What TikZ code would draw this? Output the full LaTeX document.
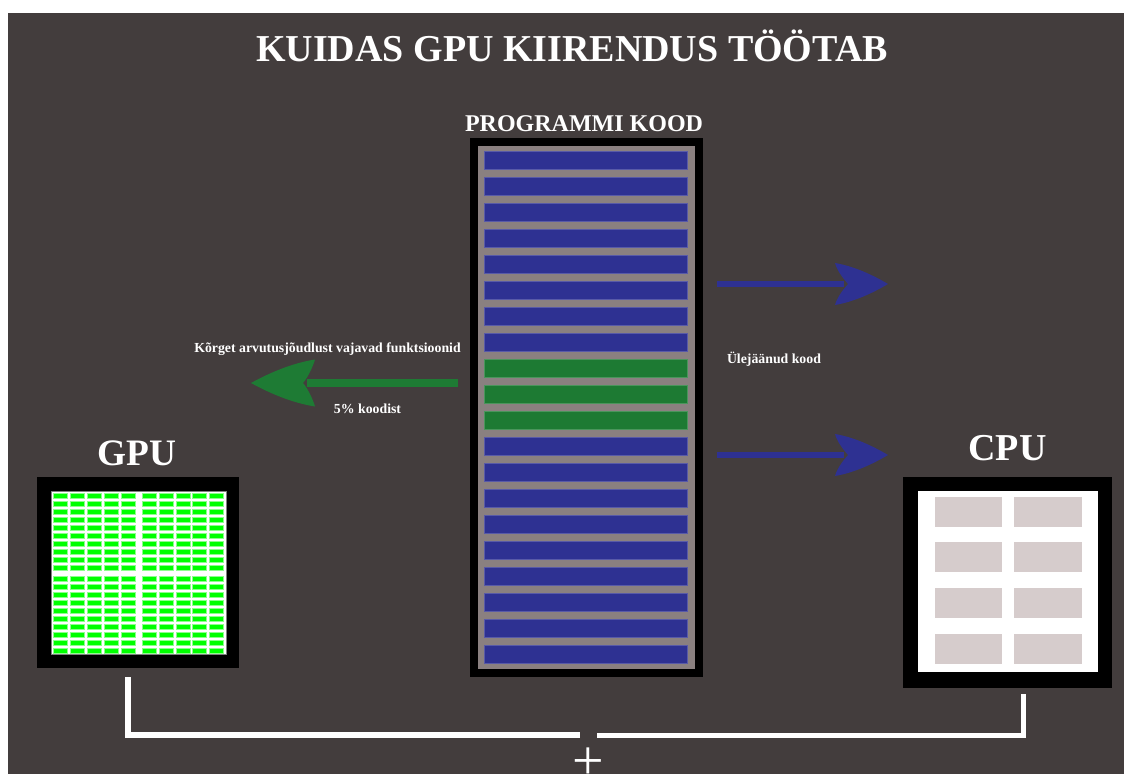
\documentclass[tikz,border=0pt]{standalone}
\usepackage{fontspec}
\setmainfont{Liberation Serif}
\usetikzlibrary{fit,calc}

\definecolor{bgdark}{HTML}{433D3D}
\definecolor{codegray}{HTML}{8A8080}
\definecolor{rowblue}{HTML}{2E3192}
\definecolor{rowgreen}{HTML}{1D7A33}
\definecolor{arrowgreen}{HTML}{1E7B34}
\definecolor{coregreen}{HTML}{00FF00}
\definecolor{cpucell}{HTML}{D6CCCC}

\tikzset{
  box/.style={inner sep=0pt, outer sep=0pt},
  lbl/.style={text=white, inner sep=0pt, outer sep=0pt},
  conn/.style={draw=white, line join=miter},
  % swept arrowhead: tip at the origin, pointing along +x
  % #1 = length, #2 = half width, #3 = depth of the rear notch
  pics/ahead/.style n args={3}{code={
    \fill (0,0) .. controls (-0.3*#1,-0.45*#2) and (-0.65*#1,-0.85*#2) .. (-#1,-#2)
      .. controls (-0.95*#1,-0.55*#2) and (-#3-0.05*#1,-0.15*#2) .. (-#3,0)
      .. controls (-#3-0.05*#1,0.15*#2) and (-0.95*#1,0.55*#2) .. (-#1,#2)
      .. controls (-0.65*#1,0.85*#2) and (-0.3*#1,0.45*#2) .. (0,0) -- cycle;
  }}
}

\begin{document}
\begin{tikzpicture}[x=0.75pt,y=-0.75pt]
\useasboundingbox (0,0) rectangle (1124,774);
\fill[white] (0,0) rectangle (1124,774);
\fill[bgdark] (8,13) rectangle (1124,774);

% title
\node[lbl, font=\bfseries\fontsize{28.5}{30}\selectfont, anchor=base] (title) at (572,62) {KUIDAS GPU KIIRENDUS TÖÖTAB};

% program code column
\node[lbl, font=\bfseries\fontsize{18}{20}\selectfont, anchor=base] (codelbl) at (584,131) {PROGRAMMI KOOD};
\node[box, fill=black, fit={(470,138)(703,677)}] (code) {};
\node[box, fill=codegray, fit={(478,146)(695,669)}] (codein) {};
\foreach \i in {0,...,19}{
  \ifnum\i>7 \ifnum\i<11 \def\rc{rowgreen}\else\def\rc{rowblue}\fi \else\def\rc{rowblue}\fi
  \node[box, fill=\rc, draw=\rc!80!white, line width=0.4pt,
        fit={(484,151+26*\i)(687,169+26*\i)}] (row\i) {};
}

% GPU
\node[lbl, font=\bfseries\fontsize{28}{30}\selectfont, anchor=base] (gpulbl) at (137,465) {GPU};
\node[box, fill=black, fit={(37,477)(239,668)}] (gpu) {};
\node[box, fill=white, draw=gray, line width=0.4pt, fit={(51,491)(226,654)}] (gpuin) {};
\foreach \cx in {53.3,70.5,87.5,104.3,121,142,159,175.7,192.3,209}{
  \foreach \j in {0,...,9}{
    \fill[coregreen, draw=coregreen!45!white, line width=0.3pt] (\cx,492.7+8*\j) rectangle ++(14,5.3);
    \fill[coregreen, draw=coregreen!45!white, line width=0.3pt] (\cx,576+8*\j) rectangle ++(14,5.3);
  }
}

% CPU
\node[lbl, font=\bfseries\fontsize{28.5}{30}\selectfont, anchor=base] (cpulbl) at (1007.5,460) {CPU};
\node[box, fill=black, fit={(903,477)(1112,688)}] (cpu) {};
\node[box, fill=white, fit={(918,491)(1098,672)}] (cpuin) {};
\foreach \cy in {497,542,588,634}{
  \fill[cpucell] (935,\cy) rectangle (1002,\cy+30);
  \fill[cpucell] (1014,\cy) rectangle (1082,\cy+30);
}

% arrow to the GPU
\coordinate (gs) at ($(code.west |- 0,383)+(-12,0)$);
\coordinate (gtip) at (251,383);
\draw[arrowgreen, line width=6pt] (gs) -- ($(gtip)+(56,0)$);
\fill[arrowgreen] (gtip) pic[rotate=180] {ahead={64}{23.5}{52}};
\node[lbl, font=\bfseries\fontsize{10.35}{12}\selectfont, anchor=base] (gputxt) at (327.5,352) {Kõrget arvutusjõudlust vajavad funktsioonid};
\node[lbl, font=\bfseries\fontsize{10.35}{12}\selectfont, anchor=base] (gpushare) at (367.5,413) {5\% koodist};

% arrows to the CPU
\coordinate (b1s) at ($(code.east |- 0,284)+(14,0)$);
\coordinate (b1t) at (888,284);
\coordinate (b2s) at ($(code.east |- 0,455)+(14,0)$);
\coordinate (b2t) at (888,455);
\draw[rowblue, line width=4.5pt] (b1s) -- ($(b1t)+(-44,0)$);
\draw[rowblue, line width=4.5pt] (b2s) -- ($(b2t)+(-44,0)$);
\fill[rowblue] (b1t) pic {ahead={53}{21}{40}};
\fill[rowblue] (b2t) pic {ahead={53}{21}{40}};
\node[lbl, font=\bfseries\fontsize{10.35}{12}\selectfont, anchor=base west] (cputxt) at (727,363) {Ülejäänud kood};

% joining GPU and CPU
\coordinate (jl) at (580,734.5);
\coordinate (jr) at (597,735.5);
\draw[conn, line width=4.5pt] ($(gpu.south)+(-10,9)$) |- (jl);
\draw[conn, line width=3.75pt] ($(cpu.south)+(15.5,6)$) |- (jr);
\node[lbl, font=\fontsize{42}{42}\selectfont, anchor=base] (plus) at (588,779) {+};
\end{tikzpicture}
\end{document}
